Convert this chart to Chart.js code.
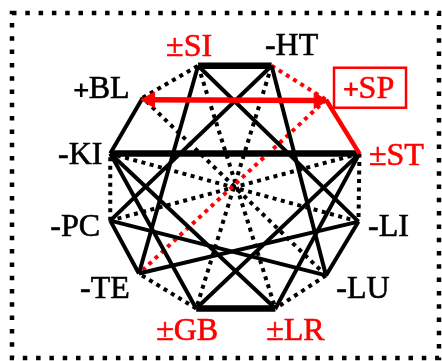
<!DOCTYPE html>
<html>
<head>
<meta charset="utf-8">
<script src="https://cdn.jsdelivr.net/npm/chart.js@4"></script>
<style>
  html, body { margin: 0; padding: 0; background: #fff; }
  #wrap { width: 442px; height: 361px; position: relative; }
</style>
</head>
<body>
<div id="wrap"><canvas id="net"></canvas></div>
<script>
// ── data ──
const nodeNames = ['SI', 'HT', 'SP', 'ST', 'LI', 'LU', 'LR', 'GB', 'TE', 'PC', 'KI', 'BL'];
const nodeSigns = ['±', '-', '+', '±', '-', '-', '±', '±', '-', '-', '-', '+'];
const nodeX = [197, 274, 331, 366, 365, 331, 278, 195, 135, 105, 105, 139];
const nodeY = [59, 59, 95, 152, 224, 281, 316, 316, 279, 223, 152, 93];
const highlighted = ['SI', 'SP', 'ST', 'LR', 'GB'];
const boxed = ['SP'];

const thickEdges = [['SI', 'HT'], ['KI', 'ST'], ['GB', 'LR']];
const solidEdges = [
  ['BL', 'KI'], ['TE', 'PC'], ['LU', 'LI'],
  ['SI', 'TE'], ['SI', 'LI'], ['TE', 'LI'],
  ['HT', 'LU'], ['HT', 'PC'], ['PC', 'LU'],
  ['KI', 'LR'], ['KI', 'GB'], ['ST', 'GB'], ['ST', 'LR']
];
const dottedEdges = [
  ['BL', 'SI'], ['ST', 'LI'], ['LU', 'LR'], ['GB', 'TE'], ['PC', 'KI'],
  ['SI', 'LR'], ['HT', 'GB'], ['ST', 'PC'], ['LI', 'KI'], ['LU', 'BL']
];
const redSolidEdges = [['SP', 'ST']];
const redDottedEdges = [['HT', 'SP'], ['SP', 'TE']];
const arrowEdges = [['SP', 'BL']];

// ── layout / style ──
const RED = '#ff0000';
const FONT = "32px 'Liberation Serif', 'Times New Roman', serif";
const labelOffsets = {
  SI: [-9, -20], HT: [20, -21], SP: [43, -12], ST: [37, 1],
  LI: [30, 4], LU: [37, 12], LR: [20, 21], GB: [-9, 21],
  TE: [-34, 14], PC: [-35, 5], KI: [-30, 0], BL: [-41, -10]
};

const pt = name => {
  const i = nodeNames.indexOf(name);
  return { x: nodeX[i], y: nodeY[i] };
};

function edgeSets(edges, style) {
  return edges.map(([a, b]) => Object.assign({
    data: [pt(a), pt(b)],
    showLine: true,
    pointRadius: 0,
    borderCapStyle: 'butt',
    fill: false,
  }, style));
}

function arrowSets(edges) {
  return edges.map(([a, b]) => {
    const p = pt(a), q = pt(b);
    const k = 0.04;
    const s = { x: p.x + (q.x - p.x) * k, y: p.y + (q.y - p.y) * k + 1 };
    const e = { x: q.x + (p.x - q.x) * k, y: q.y + (p.y - q.y) * k + 2 };
    const ang = Math.atan2(e.y - s.y, e.x - s.x) * 180 / Math.PI;
    return {
      data: [s, e],
      showLine: true,
      borderColor: RED,
      borderWidth: 5.5,
      pointStyle: 'triangle',
      pointRadius: 9,
      pointBackgroundColor: RED,
      pointBorderColor: RED,
      pointBorderWidth: 1,
      pointRotation: [ang + 90 + 180, ang + 90],
      order: 0,
    };
  });
}

const datasets = [
  ...arrowSets(arrowEdges),
  ...edgeSets(redSolidEdges, { borderColor: RED, borderWidth: 4.5, order: 1 }),
  ...edgeSets(thickEdges, { borderColor: '#000', borderWidth: 6.5, order: 2 }),
  ...edgeSets(solidEdges, { borderColor: '#000', borderWidth: 4, order: 3 }),
  ...edgeSets(redDottedEdges, { borderColor: RED, borderWidth: 4, borderDash: [4, 4.5], order: 4 }),
  ...edgeSets(dottedEdges, { borderColor: '#000', borderWidth: 4, borderDash: [4, 4.5], order: 5 }),
];

// dotted frame round the figure
const framePlugin = {
  id: 'frame',
  beforeDraw(chart) {
    const ctx = chart.ctx;
    ctx.save();
    ctx.fillStyle = '#fff';
    ctx.fillRect(0, 0, chart.width, chart.height);
    ctx.strokeStyle = '#000';
    ctx.lineWidth = 4.5;
    ctx.setLineDash([4.5, 8.8]);
    ctx.strokeRect(12, 13, 427, 345);
    ctx.restore();
  }
};

// node labels
const labelPlugin = {
  id: 'nodeLabels',
  afterDatasetsDraw(chart) {
    const ctx = chart.ctx;
    const xs = chart.scales.x, ys = chart.scales.y;
    ctx.save();
    nodeNames.forEach((name, i) => {
      const off = labelOffsets[name];
      const cx = xs.getPixelForValue(nodeX[i]) + off[0];
      const cy = ys.getPixelForValue(nodeY[i]) + off[1];
      const color = highlighted.includes(name) ? RED : '#000';
      const sign = nodeSigns[i];
      const signFont = sign === '+' ? "bold 22px 'DejaVu Sans'" : FONT;
      ctx.font = signFont;
      const sw = ctx.measureText(sign).width * (sign === '+' ? 0.8 : 1);
      ctx.font = FONT;
      const nw = ctx.measureText(name).width;
      const x0 = cx - (sw + nw) / 2;
      const base = cy + 10.5;
      ctx.fillStyle = color;
      ctx.strokeStyle = color;
      ctx.lineWidth = 0.6;
      ctx.textAlign = 'left';
      ctx.textBaseline = 'alphabetic';
      if (sign === '+') {
        ctx.font = signFont;
        ctx.textBaseline = 'middle';
        ctx.fillText(sign, x0 - 2, cy + 3);
        ctx.textBaseline = 'alphabetic';
      } else {
        ctx.font = FONT;
        ctx.fillText(sign, x0, base);
        ctx.strokeText(sign, x0, base);
      }
      ctx.font = FONT;
      ctx.fillText(name, x0 + sw, base);
      ctx.strokeText(name, x0 + sw, base);
      if (boxed.includes(name)) {
        ctx.lineWidth = 2.5;
        ctx.strokeRect(cx - 35, cy - 20, 72, 40);
      }
    });
    ctx.restore();
  }
};

new Chart(document.getElementById('net'), {
  type: 'scatter',
  data: { datasets },
  options: {
    responsive: true,
    maintainAspectRatio: false,
    animation: false,
    layout: { padding: 0 },
    plugins: { legend: { display: false }, tooltip: { enabled: false } },
    scales: {
      x: { type: 'linear', min: 0, max: 442, display: false },
      y: { type: 'linear', min: 0, max: 361, reverse: true, display: false }
    }
  },
  plugins: [framePlugin, labelPlugin]
});
</script>
</body>
</html>
